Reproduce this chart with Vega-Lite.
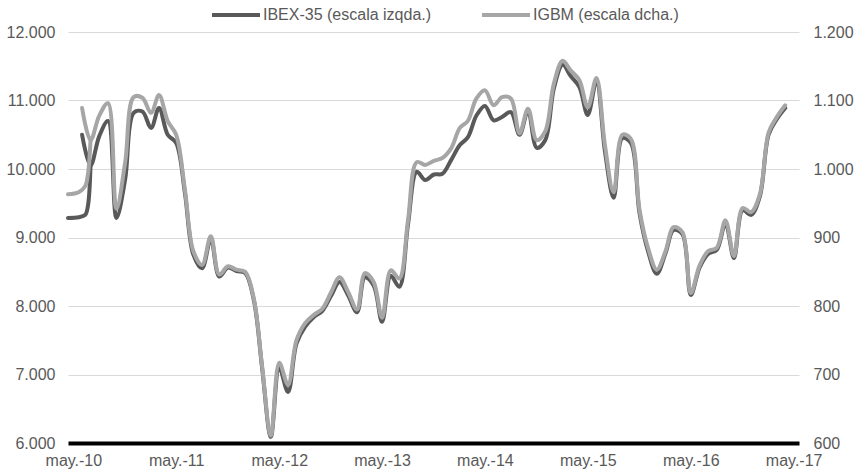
{
  "$schema": "https://vega.github.io/schema/vega-lite/v6.json",
  "width": 731,
  "height": 411,
  "autosize": "none",
  "padding": {"left": 68, "top": 32, "right": 55, "bottom": 31},
  "background": "white",
  "config": {"view": {"stroke": null}, "font": "Liberation Sans"},
  "data": {"values": [
    {"date": "2010-04-12", "seg": "a", "ibex": 9285, "igbm": 963},
    {"date": "2010-05-20", "seg": "a", "ibex": 9295, "igbm": 966},
    {"date": "2010-06-12", "seg": "a", "ibex": 9330, "igbm": 975},
    {"date": "2010-06-22", "seg": "a", "ibex": 9470, "igbm": 993},
    {"date": "2010-07-01", "seg": "a", "ibex": 10050, "igbm": 1042},
    {"date": "2010-06-01", "seg": "main", "ibex": 10500, "igbm": 1089},
    {"date": "2010-07-01", "seg": "main", "ibex": 10050, "igbm": 1042},
    {"date": "2010-08-01", "seg": "main", "ibex": 10480, "igbm": 1078},
    {"date": "2010-09-01", "seg": "main", "ibex": 10700, "igbm": 1096},
    {"date": "2010-10-01", "seg": "main", "ibex": 9285, "igbm": 942},
    {"date": "2010-11-01", "seg": "main", "ibex": 9850, "igbm": 1010},
    {"date": "2010-12-01", "seg": "main", "ibex": 10820, "igbm": 1105},
    {"date": "2011-01-01", "seg": "main", "ibex": 10840, "igbm": 1104},
    {"date": "2011-02-01", "seg": "main", "ibex": 10600, "igbm": 1082},
    {"date": "2011-03-01", "seg": "main", "ibex": 10890, "igbm": 1108},
    {"date": "2011-04-01", "seg": "main", "ibex": 10500, "igbm": 1070},
    {"date": "2011-05-01", "seg": "main", "ibex": 10380, "igbm": 1050},
    {"date": "2011-06-01", "seg": "main", "ibex": 9650, "igbm": 970},
    {"date": "2011-07-01", "seg": "main", "ibex": 8750, "igbm": 880},
    {"date": "2011-08-01", "seg": "main", "ibex": 8550, "igbm": 860},
    {"date": "2011-09-01", "seg": "main", "ibex": 8980, "igbm": 902},
    {"date": "2011-10-01", "seg": "main", "ibex": 8430, "igbm": 846},
    {"date": "2011-11-01", "seg": "main", "ibex": 8560, "igbm": 858},
    {"date": "2011-12-01", "seg": "main", "ibex": 8510, "igbm": 853},
    {"date": "2012-01-01", "seg": "main", "ibex": 8480, "igbm": 850},
    {"date": "2012-02-01", "seg": "main", "ibex": 8080, "igbm": 810},
    {"date": "2012-03-01", "seg": "main", "ibex": 7100, "igbm": 712},
    {"date": "2012-04-01", "seg": "main", "ibex": 6090, "igbm": 611},
    {"date": "2012-05-01", "seg": "main", "ibex": 7100, "igbm": 717},
    {"date": "2012-06-01", "seg": "main", "ibex": 6745, "igbm": 685},
    {"date": "2012-07-01", "seg": "main", "ibex": 7450, "igbm": 750},
    {"date": "2012-08-01", "seg": "main", "ibex": 7700, "igbm": 775},
    {"date": "2012-09-01", "seg": "main", "ibex": 7840, "igbm": 787},
    {"date": "2012-10-01", "seg": "main", "ibex": 7930, "igbm": 796},
    {"date": "2012-11-01", "seg": "main", "ibex": 8150, "igbm": 820},
    {"date": "2012-12-01", "seg": "main", "ibex": 8350, "igbm": 842},
    {"date": "2013-01-01", "seg": "main", "ibex": 8150, "igbm": 820},
    {"date": "2013-02-01", "seg": "main", "ibex": 7910, "igbm": 795},
    {"date": "2013-03-01", "seg": "main", "ibex": 8420, "igbm": 848},
    {"date": "2013-04-01", "seg": "main", "ibex": 8300, "igbm": 835},
    {"date": "2013-05-01", "seg": "main", "ibex": 7770, "igbm": 783},
    {"date": "2013-06-01", "seg": "main", "ibex": 8440, "igbm": 852},
    {"date": "2013-07-01", "seg": "main", "ibex": 8280, "igbm": 840},
    {"date": "2013-08-01", "seg": "main", "ibex": 9190, "igbm": 925},
    {"date": "2013-09-01", "seg": "main", "ibex": 9960, "igbm": 1010},
    {"date": "2013-10-01", "seg": "main", "ibex": 9840, "igbm": 1006},
    {"date": "2013-11-01", "seg": "main", "ibex": 9920, "igbm": 1012},
    {"date": "2013-12-01", "seg": "main", "ibex": 9930, "igbm": 1016},
    {"date": "2014-01-01", "seg": "main", "ibex": 10130, "igbm": 1030},
    {"date": "2014-02-01", "seg": "main", "ibex": 10350, "igbm": 1060},
    {"date": "2014-03-01", "seg": "main", "ibex": 10460, "igbm": 1070},
    {"date": "2014-04-01", "seg": "main", "ibex": 10780, "igbm": 1103},
    {"date": "2014-05-01", "seg": "main", "ibex": 10920, "igbm": 1115},
    {"date": "2014-06-01", "seg": "main", "ibex": 10710, "igbm": 1093},
    {"date": "2014-07-01", "seg": "main", "ibex": 10760, "igbm": 1105},
    {"date": "2014-08-01", "seg": "main", "ibex": 10830, "igbm": 1103},
    {"date": "2014-09-01", "seg": "main", "ibex": 10500, "igbm": 1052},
    {"date": "2014-10-01", "seg": "main", "ibex": 10850, "igbm": 1088},
    {"date": "2014-11-01", "seg": "main", "ibex": 10310, "igbm": 1042},
    {"date": "2014-12-01", "seg": "main", "ibex": 10420, "igbm": 1055},
    {"date": "2015-01-01", "seg": "main", "ibex": 11180, "igbm": 1125},
    {"date": "2015-02-01", "seg": "main", "ibex": 11520, "igbm": 1158},
    {"date": "2015-03-01", "seg": "main", "ibex": 11360, "igbm": 1144},
    {"date": "2015-04-01", "seg": "main", "ibex": 11200, "igbm": 1130},
    {"date": "2015-05-01", "seg": "main", "ibex": 10790, "igbm": 1090},
    {"date": "2015-06-01", "seg": "main", "ibex": 11280, "igbm": 1133},
    {"date": "2015-07-01", "seg": "main", "ibex": 10260, "igbm": 1035},
    {"date": "2015-08-01", "seg": "main", "ibex": 9580, "igbm": 966},
    {"date": "2015-09-01", "seg": "main", "ibex": 10450, "igbm": 1050},
    {"date": "2015-10-01", "seg": "main", "ibex": 10380, "igbm": 1044},
    {"date": "2015-11-01", "seg": "main", "ibex": 9350, "igbm": 940},
    {"date": "2015-12-01", "seg": "main", "ibex": 8800, "igbm": 885},
    {"date": "2016-01-01", "seg": "main", "ibex": 8470, "igbm": 853},
    {"date": "2016-02-01", "seg": "main", "ibex": 8770, "igbm": 880},
    {"date": "2016-03-01", "seg": "main", "ibex": 9110, "igbm": 915},
    {"date": "2016-04-01", "seg": "main", "ibex": 9050, "igbm": 908},
    {"date": "2016-05-01", "seg": "main", "ibex": 8160, "igbm": 819},
    {"date": "2016-06-01", "seg": "main", "ibex": 8560, "igbm": 859},
    {"date": "2016-07-01", "seg": "main", "ibex": 8760, "igbm": 880},
    {"date": "2016-08-01", "seg": "main", "ibex": 8820, "igbm": 885},
    {"date": "2016-09-01", "seg": "main", "ibex": 9210, "igbm": 925},
    {"date": "2016-10-01", "seg": "main", "ibex": 8700, "igbm": 873},
    {"date": "2016-11-01", "seg": "main", "ibex": 9400, "igbm": 943},
    {"date": "2016-12-01", "seg": "main", "ibex": 9330, "igbm": 937},
    {"date": "2017-01-01", "seg": "main", "ibex": 9600, "igbm": 963},
    {"date": "2017-02-01", "seg": "main", "ibex": 10500, "igbm": 1053},
    {"date": "2017-03-01", "seg": "main", "ibex": 10720, "igbm": 1075},
    {"date": "2017-04-01", "seg": "main", "ibex": 10890, "igbm": 1093}
  ]},
  "encoding": {
    "x": {
      "field": "date",
      "type": "temporal",
      "scale": {"type": "utc", "domain": [
        {"year": 2010, "month": 4, "date": 12, "utc": true},
        {"year": 2017, "month": 5, "date": 20, "utc": true}
      ]},
      "axis": {
        "values": [
          {"year": 2010, "month": 5, "date": 1, "utc": true},
          {"year": 2011, "month": 5, "date": 1, "utc": true},
          {"year": 2012, "month": 5, "date": 1, "utc": true},
          {"year": 2013, "month": 5, "date": 1, "utc": true},
          {"year": 2014, "month": 5, "date": 1, "utc": true},
          {"year": 2015, "month": 5, "date": 1, "utc": true},
          {"year": 2016, "month": 5, "date": 1, "utc": true},
          {"year": 2017, "month": 5, "date": 1, "utc": true}
        ],
        "labelExpr": "'may.-' + utcFormat(datum.value, '%y')",
        "title": null,
        "grid": false,
        "ticks": false,
        "domain": true,
        "domainColor": "#000000",
        "domainWidth": 4,
        "labelPadding": 9,
        "labelFontSize": 16,
        "labelColor": "#595959",
        "labelFlush": false,
        "labelOverlap": false,
        "zindex": 1
      }
    }
  },
  "layer": [
    {
      "mark": {"type": "line", "strokeWidth": 4, "interpolate": "catmull-rom", "strokeCap": "round", "strokeJoin": "round"},
      "encoding": {
        "y": {
          "field": "ibex",
          "type": "quantitative",
          "scale": {"domain": [6000, 12000], "nice": false, "zero": false},
          "axis": {
            "orient": "left",
            "values": [6000, 7000, 8000, 9000, 10000, 11000, 12000],
            "labelExpr": "replace(format(datum.value, ','), ',', '.')",
            "title": null,
            "grid": true,
            "gridColor": "#d9d9d9",
            "gridWidth": 1,
            "domain": false,
            "ticks": false,
            "labelPadding": 13,
            "labelFontSize": 16,
            "labelColor": "#595959"
          }
        },
        "detail": {"field": "seg"},
        "color": {
          "datum": "IBEX-35 (escala izqda.)",
          "scale": {"domain": ["IBEX-35 (escala izqda.)", "IGBM (escala dcha.)"], "range": ["#595959", "#A6A6A6"]},
          "legend": {
            "orient": "none",
            "legendX": 142,
            "legendY": -43,
            "direction": "horizontal",
            "title": null,
            "symbolType": "stroke",
            "symbolStrokeWidth": 4,
            "symbolSize": 2304,
            "labelFontSize": 16,
            "labelColor": "#595959",
            "labelLimit": 400,
            "columnPadding": 42,
            "labelOffset": 1
          }
        }
      }
    },
    {
      "mark": {"type": "line", "strokeWidth": 4, "interpolate": "catmull-rom", "strokeCap": "round", "strokeJoin": "round"},
      "encoding": {
        "y": {
          "field": "igbm",
          "type": "quantitative",
          "scale": {"domain": [600, 1200], "nice": false, "zero": false},
          "axis": {
            "orient": "right",
            "values": [600, 700, 800, 900, 1000, 1100, 1200],
            "labelExpr": "replace(format(datum.value, ','), ',', '.')",
            "title": null,
            "grid": false,
            "domain": false,
            "ticks": false,
            "labelPadding": 14,
            "labelFontSize": 16,
            "labelColor": "#595959"
          }
        },
        "detail": {"field": "seg"},
        "color": {"datum": "IGBM (escala dcha.)"}
      }
    }
  ],
  "resolve": {"scale": {"y": "independent"}}
}
